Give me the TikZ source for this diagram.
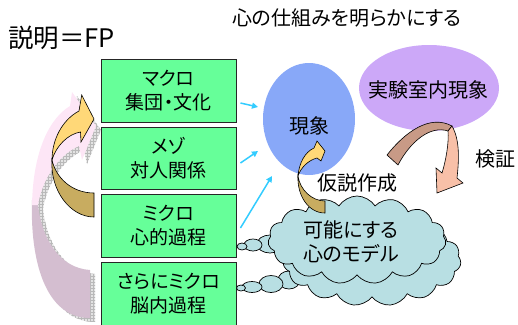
\documentclass[tikz,border=0pt]{standalone}
\usepackage{fontspec}
\setmainfont{Noto Sans CJK JP}[RawFeature=+palt]
\usetikzlibrary{shapes.symbols,shapes.geometric,patterns,arrows.meta,calc}
\definecolor{boxgreen}{HTML}{66FF99}
\definecolor{phenblue}{HTML}{88A8F8}
\definecolor{labpurple}{HTML}{CCA8F8}
\definecolor{cloudcyan}{HTML}{B8DFE3}
\definecolor{arrowcyan}{HTML}{33CCFF}
\definecolor{ylight}{HTML}{FFD878}
\definecolor{ydark}{HTML}{C8AC60}
\definecolor{brdark}{HTML}{C89A86}
\definecolor{brlight}{HTML}{F8C0A8}
\definecolor{fpink}{HTML}{FDE6F6}
\definecolor{fmauve}{HTML}{D4BED0}
\begin{document}
\begin{tikzpicture}[x=1pt,y=-1pt,
  lvbox/.style={draw=black!85,line width=0.9pt,fill=boxgreen,minimum width=135pt,inner sep=0pt,align=center,font=\fontsize{19}{24}\selectfont},
  lbl/.style={font=\fontsize{20}{24}\selectfont,inner sep=0pt,align=center},
  cyanarr/.style={draw=arrowcyan,line width=1.5pt,-{Triangle[length=6pt,width=6pt]}},
  ribbon/.style={draw=black,line width=0.6pt},
  puff/.style={draw=black,line width=0.7pt,fill=cloudcyan},
  cloudbox/.style={cloud,cloud puffs=15,cloud puff arc=115,aspect=2,puff,inner sep=0pt}
]
\useasboundingbox (0,0) rectangle (518,324);
\clip (0,0) rectangle (518,324);

% faded curved arrow with hatched shadow
\begin{scope}[shift={(5,4)}]
\fill[gray!22,preaction={fill=gray!22},pattern=grid,pattern color=gray!55]
  (32,205) .. controls (33,150) and (50,118) .. (70,106) -- (72,92) -- (96,126) -- (82,160) -- (79,146)
  .. controls (58,155) and (42,180) .. (38,205)
  .. controls (42,240) and (60,268) .. (90,270) -- (90,318)
  .. controls (45,318) and (30,260) .. (32,205) -- cycle;
\end{scope}
\fill[fmauve] (32,200) .. controls (30,260) and (45,318) .. (90,318) -- (90,270)
  .. controls (60,268) and (42,240) .. (38,205) -- cycle;
\fill[fpink] (32,205) .. controls (33,150) and (50,118) .. (70,106) -- (72,92) -- (96,126) -- (82,160) -- (79,146)
  .. controls (58,155) and (42,180) .. (38,205) -- cycle;

% level boxes
\node[lvbox,minimum height=63pt] (b1) at (168.5,90.5) {マクロ\\集団・文化};
\node[lvbox,minimum height=62pt] (b2) at (168.5,158) {メゾ\\対人関係};
\node[lvbox,minimum height=63pt] (b3) at (168.5,225.5) {ミクロ\\心的過程};
\node[lvbox,minimum height=64pt] (b4) at (168.5,294) {さらにミクロ\\脳内過程};

% big yellow curved arrow
\filldraw[ribbon,fill=ydark] (52,160) .. controls (50,190) and (70,217) .. (94,217) -- (94,193)
  .. controls (72,193) and (56,178) .. (52,160) -- cycle;
\filldraw[ribbon,fill=ylight] (52,160) .. controls (52,140) and (62,120) .. (79,111) -- (81.7,95) -- (94,119)
  -- (81,142) -- (80.5,132) .. controls (68,134) and (56,146) .. (52,160) -- cycle;

% ellipses
\node[ellipse,fill=phenblue,minimum width=92pt,minimum height=112pt,inner sep=0pt] (phen) at (309,119) {};
\node[ellipse,fill=labpurple,minimum width=140pt,minimum height=86pt,inner sep=0pt] (lab) at (429,88) {};

% cyan arrows
\coordinate (e1) at (258,107);
\coordinate (e2) at (258,151);
\coordinate (e3) at (272,176);
\draw[cyanarr] ($(b1.east)+(4,12.5)$) -- (e1);
\draw[cyanarr] ($(b2.east)+(4,5)$) -- (e2);
\draw[cyanarr] ($(b3.east)+(4,2.5)$) -- (e3);

% clouds with tails
\filldraw[puff] (289,280) ellipse [x radius=11,y radius=9];
\filldraw[puff] (271,284) ellipse [x radius=12,y radius=8.5];
\filldraw[puff] (252,287) ellipse [x radius=10,y radius=5.5];
\filldraw[puff] (241,288) ellipse [x radius=4.5,y radius=3];
\node[cloudbox,minimum width=178pt,minimum height=92pt] (cloudback) at (372,260) {};
\filldraw[puff] (270,244) ellipse [x radius=13,y radius=9];
\filldraw[puff] (253,245) ellipse [x radius=9,y radius=6];
\filldraw[puff] (242,246.5) ellipse [x radius=5,y radius=3.5];
\node[cloudbox,minimum width=178pt,minimum height=88pt] (cloudfront) at (357,240) {};

% small yellow arrow
\filldraw[ribbon,fill=ydark] (298,176) .. controls (297,195) and (308,213) .. (325,213) -- (325,201)
  .. controls (312,201) and (300,190) .. (298,176) -- cycle;
\filldraw[ribbon,fill=ylight] (298,176) .. controls (299,163) and (305,152) .. (314,148) -- (317,141) -- (325,151)
  -- (321,161) -- (317,158) .. controls (309,160) and (301,167) .. (298,176) -- cycle;

% brown verification arrow
\filldraw[ribbon,fill=brdark] (387,155) .. controls (405,132) and (430,114) .. (452,126) -- (448,131)
  .. controls (430,125) and (410,142) .. (398,165) -- cycle;
\filldraw[ribbon,fill=brlight] (452,126) .. controls (460,140) and (459,160) .. (457,178) -- (463,183) -- (437,193)
  -- (436,168) -- (442,173) .. controls (446,160) and (449,143) .. (448,131) -- cycle;

% texts
\node[anchor=west,inner sep=0pt,font=\fontsize{25.5}{28}\selectfont] (title) at (8,38) {説明＝FP};
\node[inner sep=0pt,font=\fontsize{20}{24}\selectfont] (goal) at (347,18) {心の仕組みを明らかにする};
\node[lbl] (phentext) at (309,126) {現象};
\node[lbl] (labtext) at (428,90) {実験室内現象};
\node[lbl] (hyp) at (357,183) {仮説作成};
\node[lbl] (verify) at (495,159) {検証};
\node[lbl] (cloudtext) at (351,242) {可能にする\\心のモデル};
\end{tikzpicture}
\end{document}
